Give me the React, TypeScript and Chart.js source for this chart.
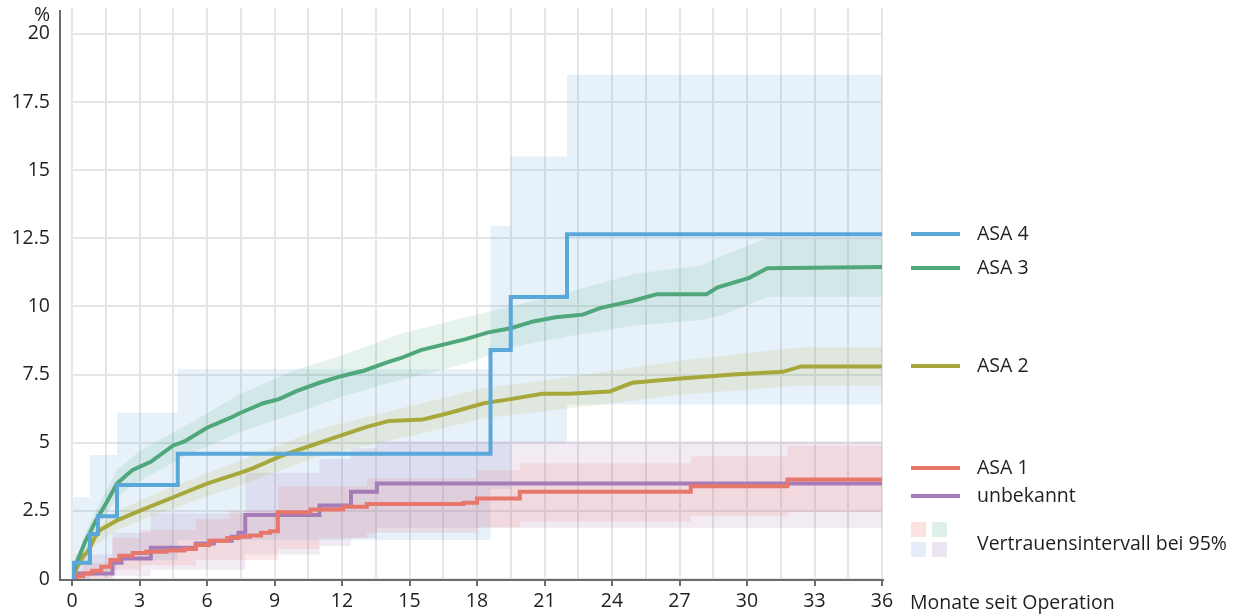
import React, { useEffect, useRef } from "react";
import { Chart, registerables } from "chart.js";

Chart.register(...registerables);

const FONT = '"Open Sans", "Noto Sans", sans-serif';
const FS = 19.5;
const TEXT = "#1f1f1f";

const yTickValues = [0, 2.5, 5, 7.5, 10, 12.5, 15, 17.5, 20];
const xTickLabels = [0, 3, 6, 9, 12, 15, 18, 21, 24, 27, 30, 33, 36];

// ASA 4 (blue) Kaplan-Meier steps
const asa4: [number, number][] = [
  [0, 0], [0.05, 0.6], [0.8, 1.65], [1.15, 2.3], [2.0, 3.45], [4.7, 4.6],
  [18.6, 8.4], [19.5, 10.35], [22.0, 12.65], [36, 12.65],
];
const asa4Lower: [number, number][] = [
  [0, 0], [0.8, 0.1], [1.15, 0.3], [2.0, 0.7], [4.7, 1.43], [18.6, 3.3],
  [19.5, 5.0], [22.0, 6.4], [36, 6.4],
];
const asa4Upper: [number, number][] = [
  [0, 0], [0.05, 3.0], [0.8, 4.55], [2.0, 6.1], [4.7, 7.7], [18.6, 12.95],
  [19.5, 15.5], [22.0, 18.5], [36, 18.5],
];

// ASA 3 (green)
const asa3: [number, number][] = [
  [0, 0], [0.15, 0.5], [0.35, 0.9], [0.6, 1.4], [0.8, 1.7], [1.0, 2.05],
  [1.25, 2.4], [1.6, 2.9], [2.0, 3.5], [2.4, 3.8], [2.7, 4.0], [3.5, 4.3],
  [4.5, 4.9], [5.0, 5.05], [6.0, 5.55], [7.0, 5.9], [7.5, 6.1], [8.5, 6.45],
  [9.2, 6.6], [10, 6.9], [11, 7.2], [12, 7.45], [13, 7.65], [14, 7.95],
  [14.6, 8.1], [15.5, 8.4], [16.5, 8.6], [17.5, 8.8], [18.5, 9.05],
  [19.5, 9.2], [20.5, 9.45], [21.5, 9.6], [22.7, 9.7], [23.5, 9.95],
  [24.9, 10.2], [26, 10.45], [28.2, 10.45], [28.7, 10.7], [30.1, 11.05],
  [30.9, 11.4], [36, 11.45],
];
const asa3Lower: [number, number][] = [
  [0, 0], [0.5, 0.8], [1, 1.7], [2, 3.0], [3, 3.6], [5, 4.5], [7.5, 5.4],
  [10, 6.1], [12, 6.7], [14.6, 7.3], [17.5, 7.9], [19.5, 8.5], [22, 8.9],
  [25, 9.3], [28, 9.5], [29, 9.7], [30.9, 10.35], [36, 10.35],
];
const asa3Upper: [number, number][] = [
  [0, 0], [0.5, 1.5], [1, 2.4], [2, 4.0], [3, 4.7], [5, 5.6], [7.5, 6.8],
  [10, 7.7], [12, 8.2], [14.6, 9.0], [17.5, 9.6], [19.5, 10.0], [22, 10.5],
  [25, 11.2], [28, 11.5], [29, 11.9], [30.9, 12.5], [36, 12.5],
];

// ASA 2 (olive)
const asa2: [number, number][] = [
  [0, 0], [0.2, 0.4], [0.5, 0.85], [0.7, 1.0], [1.0, 1.5], [1.25, 1.8],
  [2.0, 2.15], [3.0, 2.5], [4.5, 3.0], [6.0, 3.5], [7.5, 3.9], [8.0, 4.05],
  [9.4, 4.55], [11.6, 5.17], [13.1, 5.58], [14.1, 5.8], [15.6, 5.85],
  [16.8, 6.1], [18.3, 6.45], [19.5, 6.6], [20.9, 6.8],
  [22.1, 6.8], [23.9, 6.88], [24.9, 7.2], [26.9, 7.35], [29.4, 7.5],
  [31.6, 7.6], [32.4, 7.8], [36, 7.8],
];
const asa2Lower: [number, number][] = [
  [0, 0], [1, 1.2], [2, 1.8], [4.5, 2.6], [7.5, 3.45], [11, 4.5],
  [15.3, 5.3], [18.3, 5.9], [22, 6.25], [26.9, 6.75], [32.4, 7.1], [36, 7.1],
];
const asa2Upper: [number, number][] = [
  [0, 0], [1, 1.8], [2, 2.5], [4.5, 3.4], [7.5, 4.35], [11, 5.5],
  [15.3, 6.4], [18.3, 7.0], [22, 7.4], [26.9, 8.0], [32.4, 8.5], [36, 8.5],
];

// ASA 1 (salmon)
const asa1: [number, number][] = [
  [0, 0], [0.2, 0.1], [0.5, 0.2], [0.9, 0.3], [1.3, 0.45], [1.7, 0.7],
  [2.1, 0.85], [2.7, 0.95], [3.3, 1.0], [4.2, 1.05], [5.0, 1.1], [5.5, 1.25],
  [6.1, 1.4], [6.9, 1.5], [7.4, 1.55], [7.9, 1.6], [8.4, 1.7], [8.8, 1.75],
  [9.15, 2.45], [10.6, 2.55], [12.05, 2.65], [13.1, 2.75], [17.4, 2.8],
  [18.0, 2.95], [19.9, 3.2], [27.5, 3.4], [31.8, 3.65], [36, 3.65],
];
const asa1Lower: [number, number][] = [
  [0, 0], [0.5, 0.05], [1.8, 0.35], [3, 0.5], [5.5, 0.7], [9.15, 1.1],
  [11, 1.5], [13.1, 1.7], [18, 1.9], [19.9, 2.1], [27.5, 2.3], [31.8, 2.45],
  [36, 2.45],
];
const asa1Upper: [number, number][] = [
  [0, 0], [0.5, 0.6], [1.8, 1.5], [3, 1.8], [5.5, 2.2], [7, 2.5],
  [9.15, 3.4], [13.1, 3.7], [18, 4.0], [19.9, 4.25], [27.5, 4.5],
  [31.8, 4.9], [36, 4.9],
];

// unbekannt (purple)
const unbekannt: [number, number][] = [
  [0, 0], [0.1, 0.2], [1.8, 0.6], [2.2, 0.75], [3.5, 1.15], [5.5, 1.3],
  [6.3, 1.4], [7.1, 1.55], [7.4, 1.7], [7.7, 2.35], [11.0, 2.7], [12.4, 3.2],
  [13.55, 3.5], [36, 3.5],
];
const unbekanntLower: [number, number][] = [
  [0, 0], [1.8, 0.1], [3.5, 0.35], [7.7, 0.9], [11, 1.2], [12.4, 1.5],
  [13.55, 1.87], [36, 1.87],
];
const unbekanntUpper: [number, number][] = [
  [0, 0], [0.1, 0.9], [1.8, 1.7], [3.5, 2.4], [7.7, 3.9], [11, 4.4],
  [12.4, 4.8], [13.55, 5.05], [36, 5.05],
];

const COLORS = {
  asa4: "#5aa7da",
  asa3: "#4fa77b",
  asa2: "#a7a83b",
  asa1: "#e8776b",
  unbekannt: "#a57cb7",
};
const BANDS = {
  asa4: "rgba(91,164,219,0.15)",
  asa3: "rgba(80,168,120,0.14)",
  asa2: "rgba(168,170,58,0.14)",
  asa1: "rgba(232,117,106,0.15)",
  unbekannt: "rgba(167,123,181,0.15)",
};

const legendLines = [
  { label: "ASA 4", color: COLORS.asa4, y: 234 },
  { label: "ASA 3", color: COLORS.asa3, y: 268 },
  { label: "ASA 2", color: COLORS.asa2, y: 366 },
  { label: "ASA 1", color: COLORS.asa1, y: 468 },
  { label: "unbekannt", color: COLORS.unbekannt, y: 496 },
];
const ciLabel = "Vertrauensintervall bei 95%";
const ciSwatches = ["#fbe4e0", "#dff0e9", "#e4eef8", "#ece4f1"];
const xTitle = "Monate seit Operation";
const yUnit = "%";

const pts = (a: [number, number][]) => a.map(([x, y]) => ({ x, y }));

function lineDs(data: [number, number][], color: string, stepped: boolean) {
  return {
    data: pts(data),
    borderColor: color,
    borderWidth: 4,
    pointRadius: 0,
    fill: false,
    stepped: stepped ? ("before" as const) : false,
    tension: 0,
    order: 0,
    borderJoinStyle: "miter" as const,
  };
}
function bandDs(upper: [number, number][], lower: [number, number][], color: string, stepped: boolean) {
  return [
    {
      data: pts(upper),
      borderWidth: 0,
      borderColor: "rgba(0,0,0,0)",
      backgroundColor: color,
      pointRadius: 0,
      fill: "+1",
      stepped: stepped ? ("before" as const) : false,
      order: 10,
    },
    {
      data: pts(lower),
      borderWidth: 0,
      borderColor: "rgba(0,0,0,0)",
      pointRadius: 0,
      fill: false,
      stepped: stepped ? ("before" as const) : false,
      order: 10,
    },
  ];
}

const overlay = {
  id: "overlay",
  afterDraw(chart: any) {
    const ctx = chart.ctx as CanvasRenderingContext2D;
    const { left, right, top, bottom } = chart.chartArea;
    ctx.save();
    ctx.strokeStyle = "#6b6b6b";
    ctx.lineWidth = 2;
    ctx.beginPath();
    ctx.moveTo(left - 12, top + 2);
    ctx.lineTo(left - 12, bottom + 1);
    ctx.lineTo(right + 2, bottom + 1);
    ctx.stroke();

    ctx.fillStyle = TEXT;
    ctx.font = `${FS}px ${FONT}`;
    ctx.textBaseline = "middle";
    ctx.textAlign = "right";
    ctx.fillText(yUnit, left - 22, 15);
    ctx.textAlign = "left";
    ctx.fillText(xTitle, right + 28, 603);

    for (const item of legendLines) {
      ctx.strokeStyle = item.color;
      ctx.lineWidth = 4;
      ctx.beginPath();
      ctx.moveTo(911, item.y);
      ctx.lineTo(960, item.y);
      ctx.stroke();
      ctx.fillStyle = TEXT;
      ctx.fillText(item.label, 977, item.y);
    }
    const sw = [[911, 522], [932, 522], [911, 542], [932, 542]];
    sw.forEach(([x, y], i) => {
      ctx.fillStyle = ciSwatches[i];
      ctx.fillRect(x, y, 15, 15);
    });
    ctx.fillStyle = TEXT;
    ctx.fillText(ciLabel, 977, 544);
    ctx.restore();
  },
};

export default function App() {
  const ref = useRef<HTMLCanvasElement | null>(null);
  useEffect(() => {
    if (!ref.current) return;
    const chart = new Chart(ref.current, {
      type: "line",
      data: {
        datasets: [
          lineDs(asa4, COLORS.asa4, true),
          lineDs(asa3, COLORS.asa3, false),
          lineDs(asa2, COLORS.asa2, false),
          lineDs(asa1, COLORS.asa1, true),
          lineDs(unbekannt, COLORS.unbekannt, true),
          ...bandDs(asa3Upper, asa3Lower, BANDS.asa3, false),
          ...bandDs(asa2Upper, asa2Lower, BANDS.asa2, false),
          ...bandDs(asa1Upper, asa1Lower, BANDS.asa1, true),
          ...bandDs(unbekanntUpper, unbekanntLower, BANDS.unbekannt, true),
          ...bandDs(asa4Upper, asa4Lower, BANDS.asa4, true),
        ] as any,
      },
      options: {
        responsive: false,
        animation: false,
        events: [],
        layout: { padding: { left: 0, right: 360, top: 8, bottom: 0 } },
        plugins: { legend: { display: false }, tooltip: { enabled: false } },
        scales: {
          x: {
            type: "linear",
            min: 0,
            max: 36,
            afterFit: (s: any) => {
              s.height = 37;
              s.paddingLeft = 0;
              s.paddingRight = 0;
              s.paddingTop = 0;
              s.paddingBottom = 0;
            },
            border: { display: false },
            grid: {
              color: "#e5e5e5",
              lineWidth: 2,
              drawTicks: true,
              tickLength: 7,
              tickColor: (c: any) =>
                c.tick && Math.abs(c.tick.value % 3) < 1e-6 ? "#6b6b6b" : "rgba(0,0,0,0)",
              tickWidth: 2,
            },
            ticks: {
              stepSize: 1.5,
              autoSkip: false,
              maxRotation: 0,
              padding: 4,
              color: TEXT,
              font: { family: FONT, size: FS },
              callback: (v: any) => {
                const n = Number(v);
                return xTickLabels.includes(n) ? String(n) : "";
              },
            },
          },
          y: {
            type: "linear",
            min: 0,
            max: 20.95,
            afterFit: (s: any) => {
              s.width = 72;
              s.paddingLeft = 0;
              s.paddingRight = 0;
              s.paddingTop = 0;
              s.paddingBottom = 0;
            },
            afterBuildTicks: (s: any) => {
              s.ticks = yTickValues.map((v) => ({ value: v }));
            },
            border: { display: false },
            grid: { color: "#e5e5e5", lineWidth: 2, drawTicks: false },
            ticks: {
              padding: 22,
              color: TEXT,
              font: { family: FONT, size: FS },
              callback: (v: any) => String(v),
            },
          },
        },
      },
      plugins: [overlay],
    });
    return () => chart.destroy();
  }, []);
  return (
    <div style={{ position: "fixed", left: 0, top: 0, width: 1242, height: 616, background: "#fff" }}>
      <canvas ref={ref} width={1242} height={616} style={{ width: 1242, height: 616 }} />
    </div>
  );
}
